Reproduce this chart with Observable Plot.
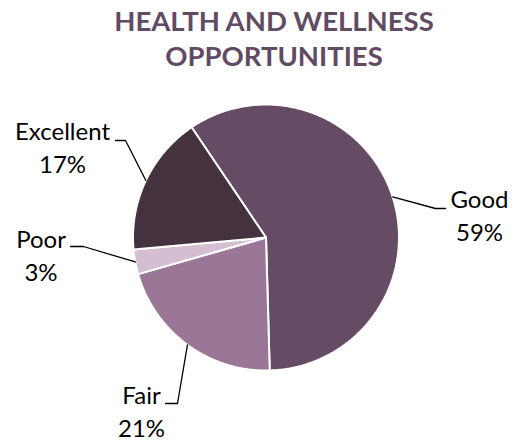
<!DOCTYPE html>
<html><head><meta charset="utf-8">
<script src="https://cdn.jsdelivr.net/npm/d3@7"></script>
<script src="https://cdn.jsdelivr.net/npm/@observablehq/plot@0.6"></script>
<style>
html,body{margin:0;padding:0;background:#fff;}
#title{width:516px;height:80px;box-sizing:border-box;padding-top:3px;padding-left:32px;text-align:center;font:bold 27.5px/35px Lato,sans-serif;color:#614a63;}
#chart svg{display:block}
</style></head><body>
<div id="title">HEALTH AND WELLNESS<br>OPPORTUNITIES</div>
<div id="chart"></div>
<script>
// ---- data ----
const categories = ["Good", "Fair", "Poor", "Excellent"];
const shares = [59, 21, 3, 17];
const percentLabels = ["59%", "21%", "3%", "17%"];

// ---- styles ----
const colors = ["#654b63", "#9b7797", "#d3bfd1", "#45323f"];

// ---- layout (page pixel frame; title block occupies first 80px) ----
const titleH = 80, W = 516, H = 442;
const cx = 265.5, cy = 237, R = 133, startDeg = -34;
const labelElbow = [[435, 208], [177, 403], [83, 246], [125, 140]];
const labelEndX = [445, 165, 70, 115];
const labelPos = [[479, 207], [141, 403], [40.5, 247], [62, 139]]; // centre x, first-line baseline
const lineGap = 33;

const a0 = startDeg * Math.PI / 180;
const arcs = d3.pie().sort(null).startAngle(a0).endAngle(a0 + 2 * Math.PI)(shares);

const slicePts = [];
arcs.forEach((p, i) => {
  const cat = categories[i];
  slicePts.push({cat, x: cx, y: cy});
  const n = Math.max(2, Math.ceil((p.endAngle - p.startAngle) / (Math.PI / 360)));
  for (let k = 0; k <= n; k++) {
    const a = p.startAngle + (p.endAngle - p.startAngle) * k / n;
    slicePts.push({cat, x: cx + R * Math.sin(a), y: cy - R * Math.cos(a)});
  }
  slicePts.push({cat, x: cx, y: cy});
});

const leaderPts = [];
arcs.forEach((p, i) => {
  const m = (p.startAngle + p.endAngle) / 2;
  const cat = categories[i];
  leaderPts.push({cat, x: cx + R * Math.sin(m), y: cy - R * Math.cos(m)});
  leaderPts.push({cat, x: labelElbow[i][0], y: labelElbow[i][1]});
  leaderPts.push({cat, x: labelEndX[i], y: labelElbow[i][1]});
});

const labels = categories.map((c, i) => ({
  text: c + "\n" + percentLabels[i],
  x: labelPos[i][0],
  y: labelPos[i][1] + lineGap
}));

const chart = Plot.plot({
  width: W,
  height: H - titleH,
  margin: 0,
  x: {domain: [0, W], range: [0, W], axis: null},
  y: {domain: [titleH, H], range: [0, H - titleH], axis: null},
  color: {domain: categories, range: colors},
  style: {background: "white", overflow: "visible"},
  marks: [
    Plot.line(slicePts, {x: "x", y: "y", z: "cat", fill: "cat", stroke: "white", strokeWidth: 2, strokeLinejoin: "miter", curve: "linear"}),
    Plot.line(leaderPts, {x: "x", y: "y", z: "cat", stroke: "black", strokeWidth: 1.3, curve: "linear"}),
    Plot.text(labels, {x: "x", y: "y", text: "text", textAnchor: "middle", lineAnchor: "bottom", lineHeight: lineGap / 24, fontSize: 24, fontFamily: "Lato, sans-serif", fill: "black"})
  ]
});
document.getElementById("chart").appendChild(chart);
</script>
</body></html>
